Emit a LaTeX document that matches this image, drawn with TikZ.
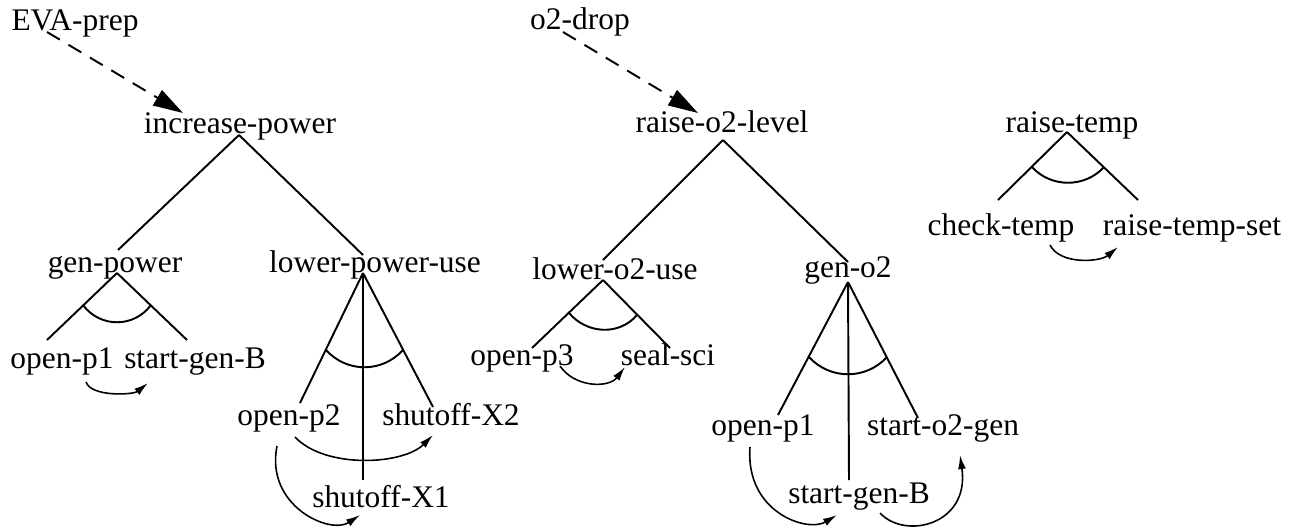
\documentclass[tikz,border=0pt]{standalone}
\usepackage{fontspec}
\setmainfont{Liberation Serif}
\usetikzlibrary{arrows.meta}

\begin{document}
\begin{tikzpicture}[x=0.02cm,y=-0.02cm,
        every node/.style={inner sep=0pt,anchor=base,font=\fontsize{17.9pt}{21pt}\selectfont},
        branch/.style={line width=1.1pt},
        trigger/.style={line width=1.1pt,dash pattern=on 8.5pt off 5.7pt,-{Triangle[length=17pt,width=10pt]}},
        order/.style={line width=0.9pt,-{Latex[length=8pt,width=4.5pt]}}]
        \useasboundingbox (0,0) rectangle (1295,529);
        % goals and events
        \node (eva) at (75,30) {EVA-prep};
        \node (o2d) at (580,29) {o2-drop};
        \node (ip) at (240,133) {increase-power};
        \node (ro) at (722,132) {raise-o2-level};
        \node (rt) at (1072,132) {raise-temp};
        \node (gp) at (115,272) {gen-power};
        \node (lpu) at (375,272) {lower-power-use};
        \node (lou) at (615,279) {lower-o2-use};
        \node (go) at (848,277) {gen-o2};
        \node (ct) at (1001,235) {check-temp};
        \node (rts) at (1192,235) {raise-temp-set};
        \node (op1) at (62,368) {open-p1};
        \node (sgb) at (195,368) {start-gen-B};
        \node (op2) at (289,425) {open-p2};
        \node (sx2) at (451,425) {shutoff-X2};
        \node (sx1) at (381,507) {shutoff-X1};
        \node (op3) at (522,365) {open-p3};
        \node (ss) at (668,365) {seal-sci};
        \node (op1b) at (763,435) {open-p1};
        \node (so2) at (943,435) {start-o2-gen};
        \node (sgb2) at (859,503) {start-gen-B};
        % triggers
        \draw[trigger] ([shift={(-28,2)}]eva.base) -- ([shift={(-57,-20)}]ip.base);
        \draw[trigger] ([shift={(-17,3)}]o2d.base) -- ([shift={(-24,-19)}]ro.base);
        % reductions
        \draw[branch] ([shift={(-1,2)}]ip.base) -- ([shift={(3,-22)}]gp.base);
        \draw[branch] ([shift={(-1,2)}]ip.base) -- ([shift={(-12,-17)}]lpu.base);
        \draw[branch] ([shift={(1,8)}]ro.base) -- ([shift={(-12,-19)}]lou.base);
        \draw[branch] ([shift={(1,8)}]ro.base) -- ([shift={(0,-15)}]go.base);
        \draw[branch] ([shift={(-5,0)}]rt.base) -- ([shift={(-3,-35)}]ct.base);
        \draw[branch] ([shift={(-5,0)}]rt.base) -- ([shift={(-54,-35)}]rts.base);
        \draw[branch] ([shift={(2,1)}]gp.base) -- ([shift={(-15,-28)}]op1.base);
        \draw[branch] ([shift={(2,1)}]gp.base) -- ([shift={(-8,-28)}]sgb.base);
        \draw[branch] ([shift={(-12,1)}]lpu.base) -- ([shift={(11,-22)}]op2.base);
        \draw[branch] ([shift={(-12,1)}]lpu.base) -- ([shift={(-18,-27)}]sx1.base);
        \draw[branch] ([shift={(-12,1)}]lpu.base) -- ([shift={(-18,-18)}]sx2.base);
        \draw[branch] ([shift={(-12,1)}]lou.base) -- ([shift={(10,-17)}]op3.base);
        \draw[branch] ([shift={(-12,1)}]lou.base) -- ([shift={(2,-17)}]ss.base);
        \draw[branch] ([shift={(0,5)}]go.base) -- ([shift={(15,-20)}]op1b.base);
        \draw[branch] ([shift={(0,5)}]go.base) -- ([shift={(-10,-23)}]sgb2.base);
        \draw[branch] ([shift={(0,5)}]go.base) -- ([shift={(-25,-17)}]so2.base);
        % and-arcs
        \draw[branch] (83,305) .. controls (100,328) and (134,328) .. (151,305);
        \draw[branch] (326,350) .. controls (347,373) and (382,373) .. (403,350);
        \draw[branch] (569,313) .. controls (587,334) and (619,336) .. (637,315);
        \draw[branch] (809,357) .. controls (830,380) and (866,380) .. (887,357);
        \draw[branch] (1032,167) .. controls (1051,188) and (1085,188) .. (1104,167);
        % orderings
        \draw[order] ([shift={(24,14)}]op1.base) .. controls +(5,15) and +(-15,12) .. ([shift={(-47,15)}]sgb.base);
        \draw[order] ([shift={(6,12)}]op2.base) .. controls +(30,32) and +(-30,30) .. ([shift={(-18,10)}]sx2.base);
        \draw[order] ([shift={(-12,21)}]op2.base) .. controls +(-12,60) and +(-30,20) .. ([shift={(-21,8)}]sx1.base);
        \draw[order] ([shift={(38,1)}]op3.base) .. controls +(15,22) and +(-16,21) .. ([shift={(-43,2)}]ss.base);
        \draw[order] ([shift={(-13,12)}]op1b.base) .. controls +(-5,65) and +(-30,18) .. ([shift={(-22,12)}]sgb2.base);
        \draw[order] ([shift={(21,10)}]sgb2.base) .. controls +(25,27) and +(10,70) .. ([shift={(17,20)}]so2.base);
        \draw[order] ([shift={(49,10)}]ct.base) .. controls +(10,20) and +(-18,15) .. ([shift={(-74,12)}]rts.base);
\end{tikzpicture}
\end{document}
